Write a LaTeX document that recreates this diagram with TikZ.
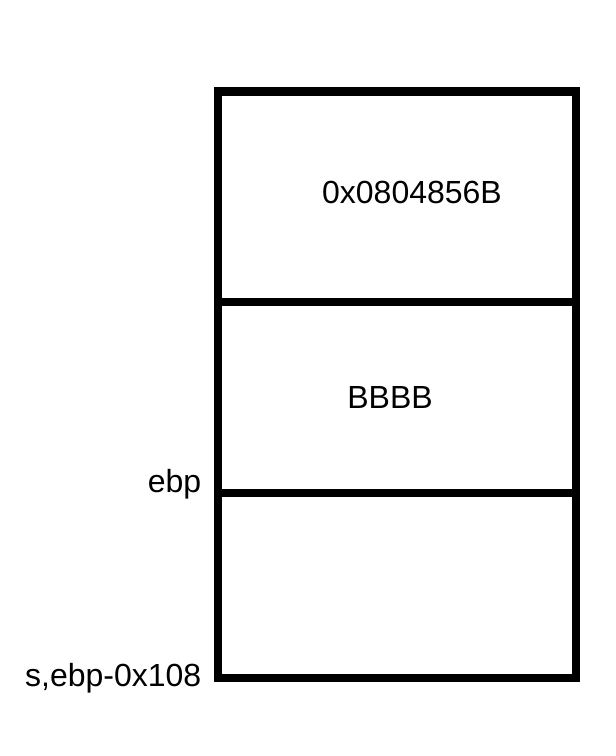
\documentclass[tikz,border=0pt]{standalone}
\usepackage{fontspec}
\setmainfont{Liberation Sans}

\begin{document}
\begin{tikzpicture}[x=0.75pt,y=0.75pt]
	    \useasboundingbox (0,0) rectangle (616,756);
	    \tikzset{cell/.style={shape=rectangle,draw=black,line width=6.5pt,inner sep=0pt,minimum width=358*0.75pt},
	             lbl/.style={font=\fontsize{24}{28}\selectfont}}

	    \node[cell,minimum height=210.5*0.75pt] (ret) at (397,559.25) {};
	    \node[cell,minimum height=191*0.75pt] (saved) at (397,358.5) {};
	    \node[cell,minimum height=185*0.75pt] (buf) at (397,170.5) {};

	    \node[lbl] (addr) at (412,564) {0x0804856B};
	    \node[lbl] (bb) at (390,359) {BBBB};
	    \node[lbl,anchor=base east] (ebp) at (206,263) {ebp};
	    \node[lbl,anchor=base east] (s) at (206,69) {s,ebp-0x108};
	\end{tikzpicture}
\end{document}
